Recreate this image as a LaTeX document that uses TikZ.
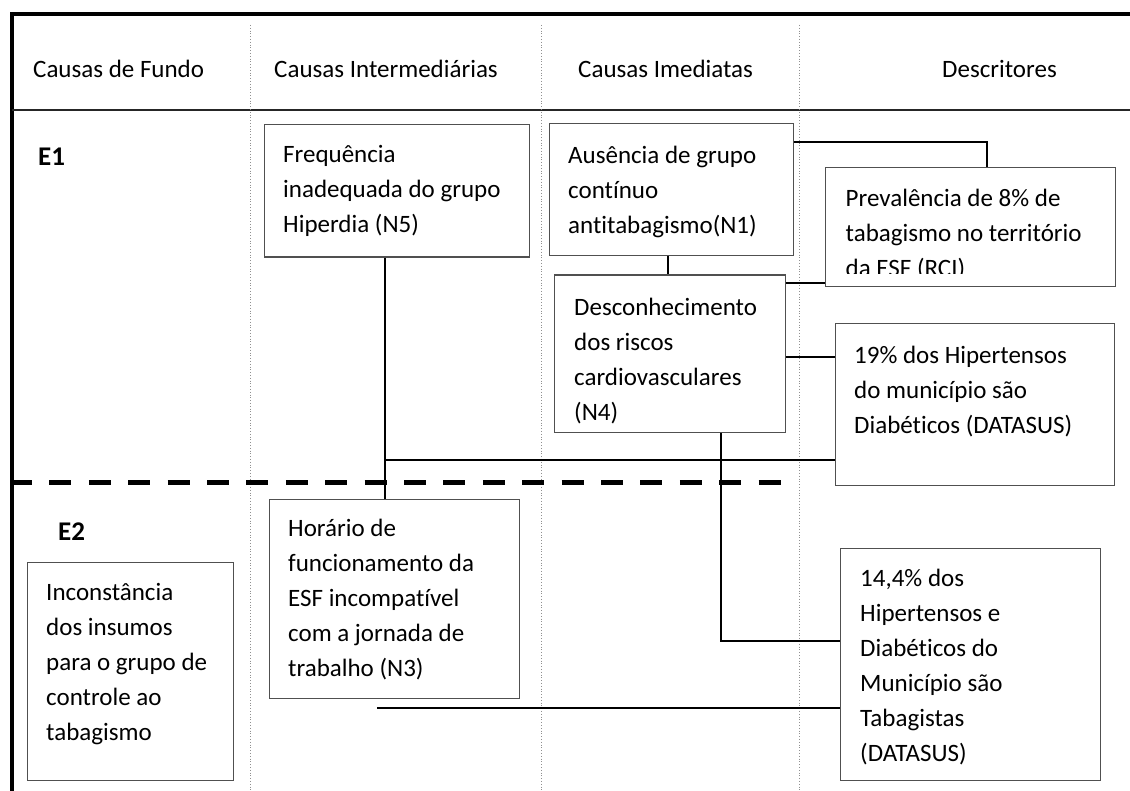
\documentclass[tikz,border=0pt]{standalone}
\usepackage{fontspec}
\setmainfont{Carlito}[Ligatures=NoCommon]
\definecolor{boxgray}{HTML}{505050}
\definecolor{dotgray}{HTML}{909090}
\begin{document}
\begin{tikzpicture}[x=1pt,y=-1pt,
  box/.style={draw=boxgray, line width=1.4pt, rectangle, inner sep=0pt, anchor=north west},
  txt/.style={anchor=north west, inner sep=0pt, align=left, font=\fontsize{25}{35}\selectfont},
  head/.style={inner sep=0pt, anchor=base west, font=\fontsize{25}{35}\selectfont},
  lvl/.style={inner sep=0pt, anchor=base west, font=\fontsize{27}{35}\selectfont\bfseries},
  conn/.style={line width=1.8pt, black},
  frame/.style={line width=4pt, black},
  col/.style={dotgray, line width=0.8pt, dotted}]
\useasboundingbox (0,0) rectangle (1130,791);
% frame and columns
\draw[frame] (1130,14) -- (12,14) -- (12,791);
\draw[line width=1.4pt, black!85] (12,110) -- (1130,110);
\foreach \cx in {250.5,541.5,799.5} \draw[col] (\cx,25) -- (\cx,791);
% headers
\node[head] (h1) at (33,77.5) {Causas de Fundo};
\node[head] (h2) at (274,77.5) {Causas Intermediárias};
\node[head] (h3) at (578,77.5) {Causas Imediatas};
\node[head] (h4) at (942,77.5) {Descritores};
\node[lvl] (e1) at (38,166) {E1};
\node[lvl] (e2) at (58,540) {E2};
% dashed separator
\draw[line width=5.5pt, dash pattern=on 22pt off 17.4pt] (10,482.5) -- (781,482.5);
% boxes
\node[box, minimum width=264.5, minimum height=132.5] (n5) at (264,124) {};
\node[box, minimum width=244, minimum height=132] (n1) at (549,123) {};
\node[box, minimum width=290, minimum height=119] (rci) at (825,167) {};
\node[box, minimum width=231, minimum height=157.5] (n4) at (553.5,274.5) {};
\node[box, minimum width=279, minimum height=161.5] (dm) at (835,323) {};
\node[box, minimum width=205.5, minimum height=218] (ins) at (27,562) {};
\node[box, minimum width=250.5, minimum height=199] (n3) at (268.5,499) {};
\node[box, minimum width=260, minimum height=232] (tb) at (840,548) {};
% texts (first baseline = y + 24.5)
\node[txt] (n5t) at (283,138.2) {\strut Frequência\\inadequada do grupo\\Hiperdia (N5)};
\node[txt] (n1t) at (568,138.5) {\strut Ausência de grupo\\contínuo\\antitabagismo(N1)};
\begin{scope}
\clip (826,168) rectangle (1114,274);
\node[txt] (rcit) at (845.5,182.2) {\strut Prevalência de 8\% de\\tabagismo no território\\da ESF (RCI)};
\end{scope}
\node[txt] (n4t) at (574,290.5) {\strut Desconhecimento\\dos riscos\\cardiovasculares\\(N4)};
\node[txt] (dmt) at (854,338.5) {\strut 19\% dos Hipertensos\\do município são\\Diabéticos (DATASUS)};
\node[txt] (inst) at (46,575.5) {\strut Inconstância\\dos insumos\\para o grupo de\\controle ao\\tabagismo};
\node[txt] (n3t) at (288,512.2) {\strut Horário de\\funcionamento da\\ESF incompatível\\com a jornada de\\trabalho (N3)};
\node[txt] (tbt) at (860,562.2) {\strut 14,4\% dos\\Hipertensos e\\Diabéticos do\\Município são\\Tabagistas\\(DATASUS)};
% connectors
\coordinate (c1) at (987,142.3);
\draw[conn] (n1.east |- c1) -- (c1) -- (c1 |- rci.north);
\coordinate (c0) at (668,0);
\draw[conn] (c0 |- n1.south) -- (c0 |- n4.north);
\coordinate (c2) at (0,283.3);
\draw[conn] (n4.east |- c2) -- (rci.west |- c2);
\coordinate (c3) at (0,357);
\draw[conn] (n4.east |- c3) -- (dm.west |- c3);
\coordinate (c4) at (385,460);
\draw[conn] (c4 |- n5.south) -- (c4 |- n3.north);
\draw[conn] (c4) -- (dm.west |- c4);
\coordinate (c5) at (721,641);
\draw[conn] (c5 |- n4.south) -- (c5) -- (tb.west |- c5);
\coordinate (c6) at (377,707.7);
\draw[conn] (c6) -- (tb.west |- c6);
\end{tikzpicture}
\end{document}
